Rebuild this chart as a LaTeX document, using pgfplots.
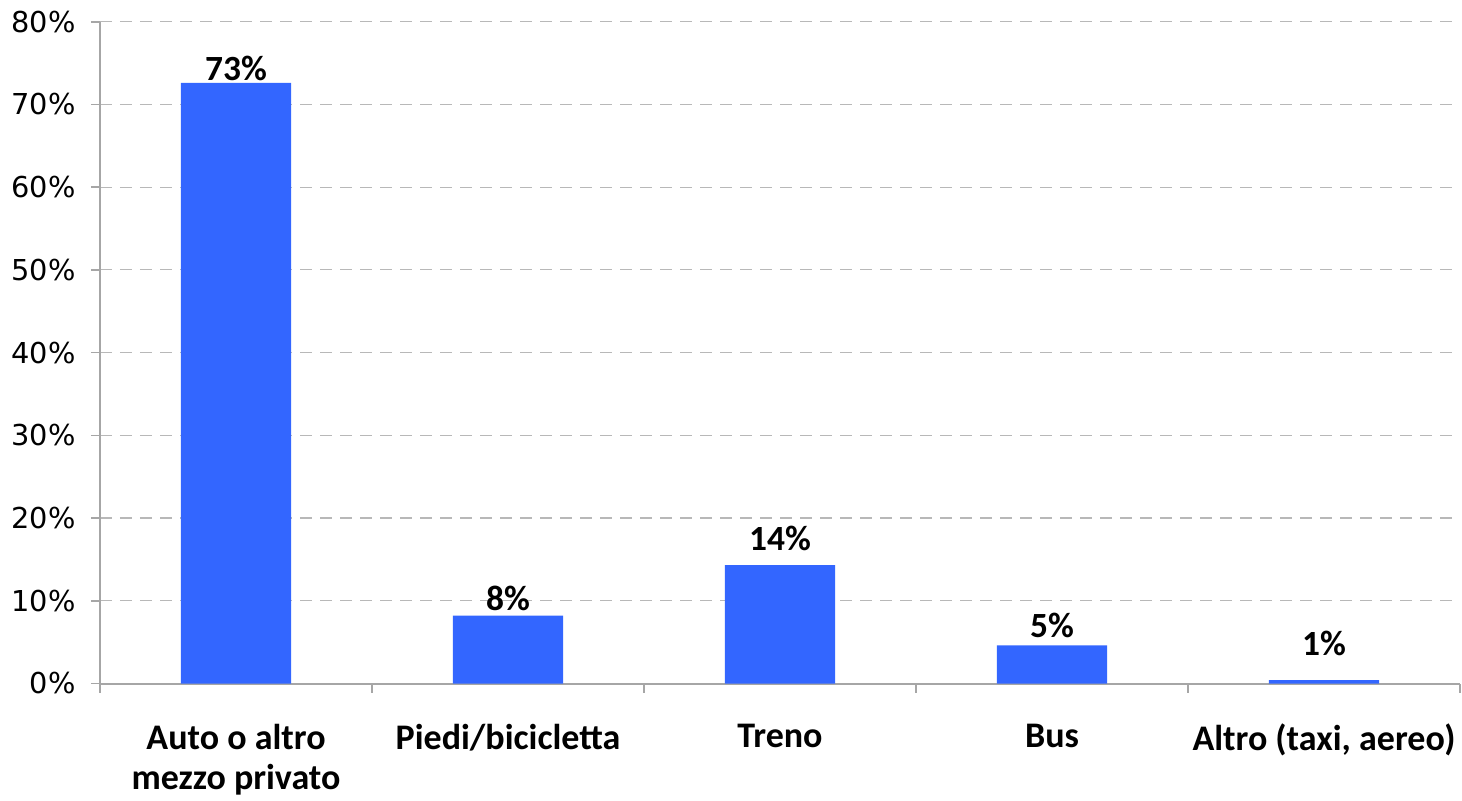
\documentclass[border=0pt]{standalone}
\usepackage{pgfplots}
\pgfplotsset{compat=1.18}
\usepackage{pgfplotstable}
\usepackage{fontspec}
\setmainfont{Carlito}
\newfontfamily\dejavu{DejaVu Sans}
\definecolor{barblue}{HTML}{3366FF}
\definecolor{axisgray}{HTML}{A6A6A6}
\definecolor{gridgray}{HTML}{B8B8B8}
\pgfplotstableread{
x y ly label
0 72.6 72.75 73
1 8.2 8.7 8
2 14.3 15.95 14
3 4.6 5.44 5
4 0.4 3.26 1
}\data
\begin{document}
\begin{tikzpicture}
\path[use as bounding box] (0,0) rectangle (731pt,400pt);
\begin{axis}[
  at={(50pt,58.25pt)}, anchor=south west,
  scale only axis, width=680pt, height=330.9pt,
  xmin=-0.5, xmax=4.5, ymin=0, ymax=80,
  axis x line*=bottom, axis y line*=left,
  axis line style={-, axisgray, line width=1pt},
  tick align=outside, major tick length=4.5pt,
  tick style={axisgray, line width=0.8pt},
  xtick={-0.5,0.5,1.5,2.5,3.5,4.5}, xticklabels={},
  extra x ticks={0,1,2,3,4},
  extra x tick labels={Auto o altro\\mezzo privato, Piedi/bicicletta, Treno, Bus, {Altro (taxi, aereo)}},
  extra x tick style={major tick length=0pt},
  xticklabel style={font=\bfseries\fontsize{18}{20}\selectfont, align=center, anchor=north, inner sep=0pt, yshift=-20pt},
  ytick={0,10,...,80},
  yticklabels={0\%,10\%,20\%,30\%,40\%,50\%,60\%,70\%,80\%},
  yticklabel style={font=\dejavu\fontsize{14.4}{17}\selectfont, anchor=east, inner sep=0pt, xshift=-7.5pt},
  ymajorgrids,
  major grid style={gridgray, line width=0.6pt, dash pattern=on 6pt off 4pt},
  clip=false,
]
\addplot[ybar, bar width=55pt, fill=barblue, draw=none] table[x=x, y=y] {\data};
\addplot[draw=none, nodes near coords={\pgfplotspointmeta\%}, point meta=explicit symbolic,
  every node near coord/.append style={font=\bfseries\fontsize{17.7}{20}\selectfont, anchor=south, inner sep=0pt, black}]
  table[x=x, y=ly, meta=label] {\data};
\end{axis}
\end{tikzpicture}
\end{document}
